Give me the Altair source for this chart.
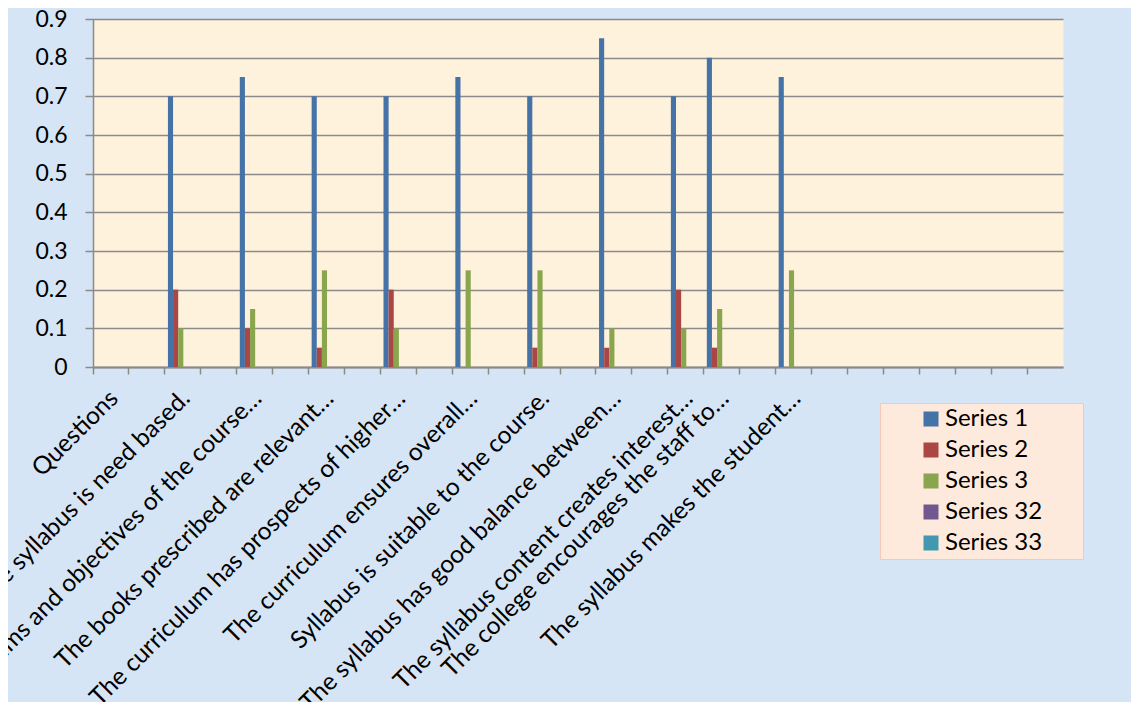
import json
import altair as alt
import pandas as pd

# ---- data ----
categories = [
    "Questions", "",
    "The syllabus is need based.", "",
    "The aims and objectives of the course…", "",
    "The books prescribed are relevant…", "",
    "The curriculum has prospects of higher…", "",
    "The curriculum ensures overall…", "",
    "Syllabus is suitable to the course.", "",
    "The syllabus has good balance between…", "",
    "The syllabus content creates interest…",
    "The college encourages the staff to…", "",
    "The syllabus makes the student…",
    "", "", "", "", "", "", "",
]

series_names = ["Series 1", "Series 2", "Series 3", "Series 32", "Series 33"]
series_colors = ["#4572A7", "#AA4643", "#89A54E", "#71588F", "#4198AF"]

N = None
series1 = [N, N, 0.70, N, 0.75, N, 0.70, N, 0.70, N, 0.75, N, 0.70, N, 0.85, N, 0.70, 0.80, N, 0.75, N, N, N, N, N, N, N]
series2 = [N, N, 0.20, N, 0.10, N, 0.05, N, 0.20, N, N, N, 0.05, N, 0.05, N, 0.20, 0.05, N, N, N, N, N, N, N, N, N]
series3 = [N, N, 0.10, N, 0.15, N, 0.25, N, 0.10, N, 0.25, N, 0.25, N, 0.10, N, 0.10, 0.15, N, 0.25, N, N, N, N, N, N, N]
series32 = [N] * 27
series33 = [N] * 27

y_ticks = [0, 0.1, 0.2, 0.3, 0.4, 0.5, 0.6, 0.7, 0.8, 0.9]

rows = []
for name, vals in zip(series_names, [series1, series2, series3, series32, series33]):
    for i, v in enumerate(vals):
        if v is not None:
            rows.append({"idx": i, "series": name, "value": v})
df = pd.DataFrame(rows)

FONT = "Lato"
GRID = "#8A8A8A"
label_expr = json.dumps(categories, ensure_ascii=False) + "[datum.value]"
x_scale = alt.Scale(domain=list(range(len(categories))), paddingInner=0, paddingOuter=0)
legend_pad = "\u2800" * 2  # invisible, non-trimmed filler to widen the legend box on the right

y_enc = alt.Y(
    "value:Q",
    scale=alt.Scale(domain=[0, 0.9], nice=False, zero=True),
    axis=alt.Axis(
        values=y_ticks, format=".1~f", title=None,
        labelFont=FONT, labelFontSize=23, labelColor="#000000", labelPadding=18,
        tickSize=8, tickColor=GRID, tickWidth=1.5,
        domainColor=GRID, domainWidth=1.5,
        grid=True, gridColor=GRID, gridWidth=1.6,
    ),
)

bars = alt.Chart(df).mark_bar().encode(
    x=alt.X(
        "idx:O", scale=x_scale,
        axis=alt.Axis(
            orient="bottom", title=None, labelExpr=label_expr, labelAngle=-45,
            labelAlign="right", labelBaseline="top",
            labelFont=FONT, labelFontSize=24.5, labelColor="#000000",
            labelPadding=19, labelOffset=-5, labelLimit=1000, labelOverlap=False,
            ticks=False, domain=True, domainColor=GRID, domainWidth=1.8, grid=False,
        ),
    ),
    xOffset=alt.XOffset(
        "series:N",
        scale=alt.Scale(domain=series_names, paddingInner=0, paddingOuter=1, align=0.3),
    ),
    y=y_enc,
    color=alt.Color(
        "series:N",
        scale=alt.Scale(domain=series_names, range=series_colors),
        legend=alt.Legend(
            title=None, orient="none", legendX=787, legendY=384,
            fillColor="#FDEADC", strokeColor="#F7C9B5",
            padding=4, symbolType="square", symbolSize=225, symbolStrokeWidth=0,
            symbolOffset=35, labelOffset=2,
            labelFont=FONT, labelFontSize=24, labelColor="#000000",
            rowPadding=7, labelExpr="datum.label + '" + legend_pad + "'", labelLimit=400,
        ),
    ),
)

ticks_layer = alt.Chart(df).mark_bar(opacity=0).encode(
    x=alt.X(
        "idx:O", scale=x_scale,
        axis=alt.Axis(
            orient="bottom", title=None, labels=False, domain=False, grid=False,
            ticks=True, bandPosition=0, tickSize=7, tickColor=GRID, tickWidth=1.5,
        ),
    ),
    y=y_enc,
)

chart = (
    alt.layer(bars, ticks_layer)
    .resolve_axis(x="independent")
    .properties(
        width=970, height=348,
        autosize=alt.AutoSizeParams(type="none"),
        padding={"left": 85, "top": 11, "right": 68, "bottom": 335},
        background="#D5E5F5",
    )
    .configure(font=FONT)
    .configure_view(fill="#FEF2DD", stroke="transparent")
)

chart.save("out.html", embed_options={"renderer": "svg", "actions": False})
